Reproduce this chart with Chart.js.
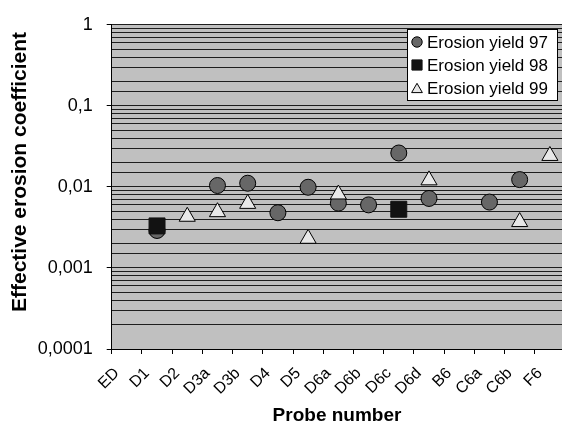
<!DOCTYPE html>
<html>
<head>
<meta charset="utf-8">
<script src="https://cdn.jsdelivr.net/npm/chart.js@4/dist/chart.umd.min.js"></script>
<style>
  html, body { margin: 0; padding: 0; background: #fff; overflow: hidden; }
  #wrap { width: 580px; height: 426px; }
</style>
</head>
<body>
<div id="wrap"><canvas id="c" width="580" height="426"></canvas></div>
<script>
// ---- data ----
const categories = ['ED','D1','D2','D3a','D3b','D4','D5','D6a','D6b','D6c','D6d','B6','C6a','C6b','F6'];
const yield97 = [null, 0.0029, null, 0.0104, 0.0111, 0.0048, 0.0099, 0.0063, 0.0060, 0.0262, 0.0072, null, 0.0065, 0.0123, null];
const yield98 = [null, 0.0033, null, null, null, null, null, null, null, 0.0053, null, null, null, null, null];
const yield99 = [null, null, 0.0043, 0.0049, 0.0062, null, 0.0023, 0.0081, null, null, 0.0121, null, null, 0.0037, 0.0242];
const seriesLabels = ['Erosion yield 97', 'Erosion yield 98', 'Erosion yield 99'];
const yMin = 0.0001, yMax = 1;
const xTitle = 'Probe number';
const yTitle = 'Effective erosion coefficient';

const FONT = "'Liberation Sans', Arial, Helvetica, sans-serif";

const styles = [
  { pointStyle: 'circle',   radius: 8,    bg: '#676767', border: '#000000', lg: 5.2 },
  { pointStyle: 'rect',     radius: 11.3, bg: '#121212', border: '#121212', lg: 7.2 },
  { pointStyle: 'triangle', radius: 9.3,  bg: '#e8e8e8', border: '#000000', lg: 6.2 }
];

function isMajor(v) {
  const e = Math.log10(v);
  return Math.abs(e - Math.round(e)) < 1e-6;
}

const plotBg = {
  id: 'plotBg',
  beforeDraw(chart) {
    const { ctx, chartArea: a } = chart;
    ctx.save();
    ctx.fillStyle = '#c0c0c0';
    ctx.fillRect(a.left, a.top, a.right - a.left, a.bottom - a.top);
    ctx.restore();
  }
};

function marker(ctx, style, r, x, y) {
  ctx.beginPath();
  if (style === 'circle') {
    ctx.arc(x, y, r, 0, Math.PI * 2);
  } else if (style === 'rect') {
    ctx.rect(x - r * Math.SQRT1_2, y - r * Math.SQRT1_2, r * Math.SQRT2, r * Math.SQRT2);
  } else {
    const h = Math.sqrt(3) / 2 * r;
    ctx.moveTo(x, y - r);
    ctx.lineTo(x + h, y + r / 2);
    ctx.lineTo(x - h, y + r / 2);
    ctx.closePath();
  }
  ctx.fill();
  ctx.stroke();
}

const extras = {
  id: 'extras',
  afterDraw(chart) {
    const { ctx } = chart;
    ctx.save();
    // legend box
    const bx = 407.5, by = 29.5, bw = 150, bh = 71;
    ctx.fillStyle = '#ffffff';
    ctx.strokeStyle = '#000000';
    ctx.lineWidth = 1;
    ctx.fillRect(bx, by, bw, bh);
    ctx.strokeRect(bx, by, bw, bh);
    const rows = [42, 65, 88];
    chart.data.datasets.forEach((ds, i) => {
      const s = styles[i];
      ctx.fillStyle = s.bg;
      ctx.strokeStyle = s.border;
      ctx.lineWidth = 1;
      marker(ctx, s.pointStyle, s.lg, 417, rows[i] + (s.pointStyle === 'triangle' ? 1.5 : 0));
      ctx.fillStyle = '#000';
      ctx.font = '17px ' + FONT;
      ctx.textAlign = 'left';
      ctx.textBaseline = 'middle';
      ctx.fillText(ds.label, 427, rows[i] + 1);
    });
    // axis titles
    ctx.fillStyle = '#000';
    ctx.font = 'bold 19px ' + FONT;
    ctx.textAlign = 'center';
    ctx.textBaseline = 'middle';
    ctx.fillText(xTitle, 337, 416);
    ctx.translate(20, 172);
    ctx.rotate(-Math.PI / 2);
    ctx.font = 'bold 21px ' + FONT;
    ctx.fillText(yTitle, 0, 0);
    ctx.restore();
  }
};

const data = {
  labels: categories,
  datasets: [yield97, yield98, yield99].map((arr, i) => ({
    label: seriesLabels[i],
    data: arr,
    showLine: false,
    order: 3 - i,
    pointStyle: styles[i].pointStyle,
    pointRadius: styles[i].radius,
    pointHoverRadius: styles[i].radius,
    pointBackgroundColor: styles[i].bg,
    pointBorderColor: styles[i].border,
    pointBorderWidth: 1,
    backgroundColor: styles[i].bg,
    borderColor: styles[i].border
  }))
};

new Chart(document.getElementById('c'), {
  type: 'line',
  data,
  plugins: [plotBg, extras],
  options: {
    responsive: false,
    animation: false,
    events: [],
    layout: { padding: { left: 0, top: 21, right: 15, bottom: 0 } },
    plugins: { legend: { display: false }, tooltip: { enabled: false }, title: { display: false } },
    scales: {
      x: {
        type: 'category',
        offset: true,
        grid: { display: true, offset: true, drawOnChartArea: false, drawTicks: true, tickLength: 5, color: '#000', lineWidth: 1 },
        border: { display: true, color: '#000', width: 1 },
        ticks: {
          autoSkip: false, maxRotation: 45, minRotation: 45,
          color: '#000', font: { family: FONT, size: 16 }, padding: 10, labelOffset: -10
        },
        afterFit(scale) { scale.height = 77; }
      },
      y: {
        type: 'logarithmic',
        min: yMin, max: yMax,
        grid: {
          display: true, drawOnChartArea: true, drawTicks: true, tickLength: 5,
          color: '#1e1e1e', lineWidth: 1,
          tickColor: (ctx) => (ctx.tick && isMajor(ctx.tick.value)) ? '#000' : 'rgba(0,0,0,0)'
        },
        border: { display: true, color: '#000', width: 1 },
        ticks: {
          autoSkip: false, color: '#000', font: { family: FONT, size: 18 }, padding: 14,
          callback: (v) => isMajor(v) ? String(v).replace('.', ',') : ''
        },
        afterFit(scale) { scale.width = 111.7; }
      }
    }
  }
});
</script>
</body>
</html>
